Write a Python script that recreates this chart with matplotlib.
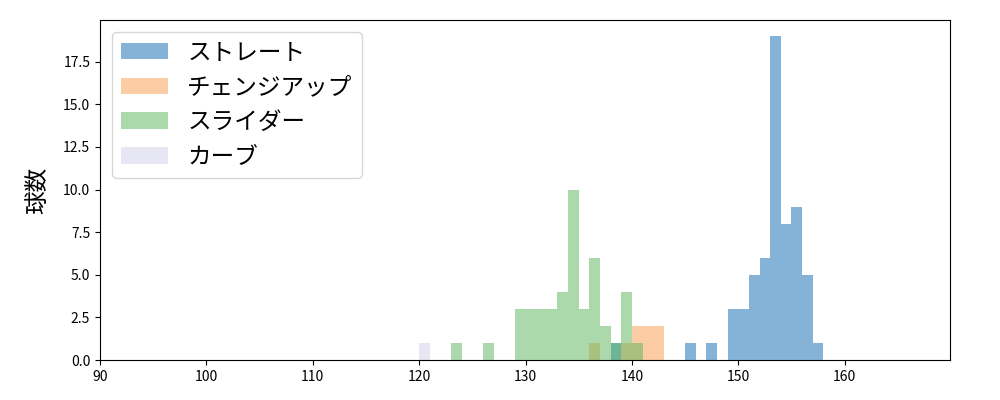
import numpy as np
import matplotlib
matplotlib.use("Agg")
import matplotlib.pyplot as plt

plt.rcParams['font.family'] = ['Noto Sans CJK JP', 'DejaVu Sans']

# pitch speed (km/h) histograms, 1 km/h bins, left edge + count
labels = ['ストレート', 'チェンジアップ', 'スライダー', 'カーブ']

straight_start = 138
straight_counts = [1, 0, 0, 0, 0, 0, 0, 1, 0, 1, 0, 3, 3, 5, 6, 19, 8, 9, 5, 1]

change_start = 136
change_counts = [1, 0, 0, 1, 2, 2, 2]

slider_start = 123
slider_counts = [1, 0, 0, 1, 0, 0, 3, 3, 3, 3, 4, 10, 3, 6, 2, 1, 4, 1]

curve_start = 120
curve_counts = [1]

colors = ['#0d69b1', '#fb9b4b', '#59b559', '#d1d1e9']

series = [(straight_start, straight_counts),
          (change_start, change_counts),
          (slider_start, slider_counts),
          (curve_start, curve_counts)]

fig, ax = plt.subplots(figsize=(10, 4), dpi=100)
fig.subplots_adjust(left=0.1, right=0.95, top=0.95, bottom=0.1)

for (start, counts), lab, c in zip(series, labels, colors):
    counts = np.array(counts, dtype=float)
    edges = start + np.arange(len(counts) + 1)
    ax.hist(edges[:-1], bins=edges, weights=counts, color=c, alpha=0.5, label=lab)

ax.set_xlim(90, 169.9)
ax.set_ylabel('球数', fontsize=17, labelpad=10)
ax.legend(loc='upper left', fontsize=17)

plt.savefig('out.png')
